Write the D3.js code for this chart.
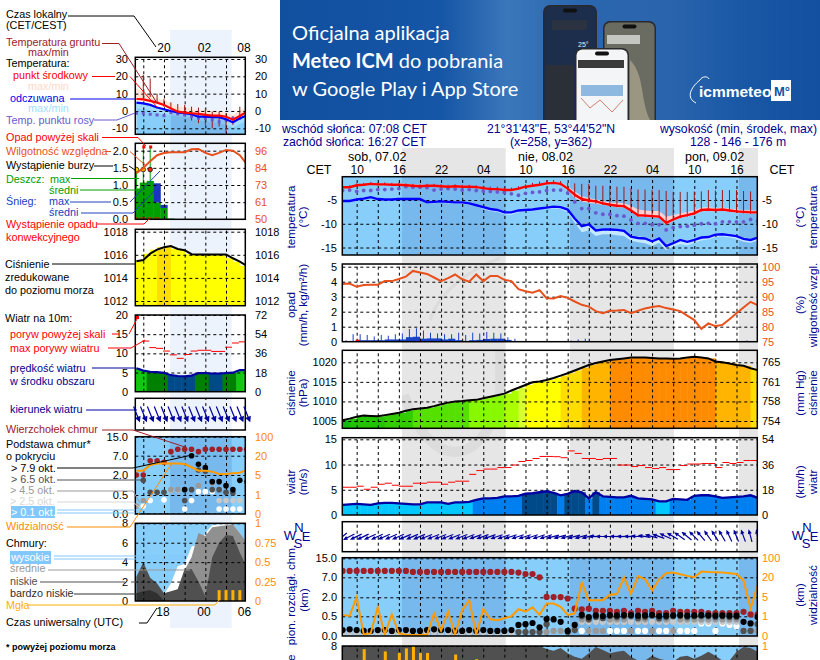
<!DOCTYPE html>
<html>
<head>
<meta charset="utf-8">
<script src="https://cdn.jsdelivr.net/npm/d3@7"></script>
<style>
  html, body { margin: 0; padding: 0; background: #fff; overflow: hidden; }
  svg { display: block; font-family: "Liberation Sans", Arial, sans-serif; }
  .domain { display: none; }
</style>
</head>
<body>
<div id="drawing_region"></div>
<script>
const _ = null;

// main meteogram, one value per hour from sob 08:00
const dayLabels = ['sob, 07.02', 'nie, 08.02', 'pon, 09.02'];
const hourLabels = ['10', '16', '22', '04', '10', '16', '22', '04', '10', '16'];
const temp = [-2.3,-2.3,-1.9,-1.8,-1.6,-1.7,-1.7,-1.8,-1.8,-1.9,-2.0,-2.1,-2.0,-2.0,-2.1,-2.2,-2.1,-2.2,-2.2,-2.3,-2.5,-2.7,-2.7,-2.9,-2.9,-2.6,-2.2,-2.0,-1.8,-1.5,-1.4,-1.6,-2.6,-3.9,-4.8,-5.1,-5.3,-5.7,-6.0,-6.2,-6.3,-7.2,-8.2,-8.3,-8.4,-8.5,-9.8,-9.1,-8.5,-8.2,-7.8,-7.1,-7.0,-7.1,-7.0,-7.2,-7.4,-7.5,-7.6,-7.6];
const tempHigh = [-2.1,-2.1,-1.7,-1.6,-1.4,-1.5,-1.5,-1.5,-1.5,-1.6,-1.7,-1.8,-1.8,-1.8,-1.9,-2.0,-1.9,-2.0,-2.0,-2.1,-2.3,-2.5,-2.5,-2.7,-2.7,-2.4,-2.0,-1.8,-1.6,-1.2,-1.1,-1.4,-2.1,-3.2,-4.2,-4.6,-4.9,-5.2,-5.5,-5.6,-5.7,-6.2,-7.0,-7.2,-7.3,-7.3,-8.5,-8.2,-7.8,-7.5,-7.2,-6.6,-6.5,-6.7,-6.6,-6.8,-7.0,-7.1,-7.2,-7.2];
const tempLow = [-2.5,-2.5,-2.1,-2.0,-1.8,-1.9,-1.9,-2.0,-2.0,-2.1,-2.2,-2.3,-2.2,-2.2,-2.3,-2.4,-2.3,-2.4,-2.4,-2.5,-2.7,-2.9,-2.9,-3.1,-3.1,-2.8,-2.4,-2.2,-2.0,-1.7,-1.6,-1.9,-3.0,-4.5,-5.3,-5.6,-5.8,-6.0,-6.3,-6.5,-6.6,-7.5,-8.5,-8.6,-8.7,-8.8,-10.3,-9.4,-8.8,-8.5,-8.1,-7.4,-7.3,-7.4,-7.3,-7.5,-7.7,-7.8,-7.9,-7.9];
const feel = [-5.2,-5.2,-4.9,-4.7,-4.4,-4.8,-4.9,-4.9,-4.8,-4.8,-4.8,-4.8,-5.5,-5.4,-5.3,-5.4,-5.5,-5.5,-5.7,-6.1,-6.5,-6.9,-7.1,-7.6,-7.6,-7.2,-7.1,-7.0,-6.8,-6.6,-6.4,-6.5,-7.0,-8.9,-10.5,-10.1,-11.4,-11.2,-11.2,-11.3,-11.5,-12.7,-13.0,-13.1,-13.7,-13.1,-14.7,-14.1,-13.4,-13.8,-13.4,-12.9,-12.8,-12.3,-12.2,-12.4,-12.6,-13.2,-13.4,-12.9];
const feelHigh = [-5.0,-5.0,-4.7,-4.5,-4.2,-4.6,-4.7,-4.7,-4.6,-4.6,-4.6,-4.6,-5.2,-5.2,-5.1,-5.2,-5.3,-5.3,-5.5,-5.9,-6.3,-6.7,-6.9,-7.4,-7.4,-7.0,-6.9,-6.8,-6.6,-6.4,-6.2,-6.3,-6.8,-8.5,-10.1,-9.8,-11.1,-11.0,-11.0,-11.1,-11.3,-12.4,-12.7,-12.8,-13.3,-12.8,-14.3,-13.8,-13.1,-13.5,-13.1,-12.6,-12.5,-12.0,-11.9,-12.1,-12.3,-12.9,-13.1,-12.7];
const feelLow = [-5.4,-5.4,-5.1,-4.9,-4.6,-5.0,-5.1,-5.1,-5.0,-5.0,-5.0,-5.0,-5.8,-5.7,-5.6,-5.7,-5.8,-5.8,-6.0,-6.4,-6.9,-7.3,-7.5,-8.0,-8.1,-7.6,-7.4,-7.3,-7.1,-6.9,-6.8,-6.9,-7.6,-9.8,-11.8,-11.4,-12.6,-12.2,-12.2,-12.4,-12.6,-13.6,-13.9,-14.1,-14.7,-14.0,-15.6,-14.8,-14.3,-14.5,-14.0,-13.5,-13.3,-12.8,-12.7,-12.9,-13.2,-13.8,-14.0,-13.5];
const dew = [-3.0,-2.9,-3.2,-3.0,-3.0,-2.8,-2.8,-2.7,-2.6,-2.2,-2.3,-2.3,-2.4,-2.9,-2.7,-2.6,-2.7,-2.9,-2.8,-3.0,-3.1,-3.2,-3.3,-3.4,-3.7,-4.0,-3.6,-3.4,-3.3,-3.0,-2.9,-2.9,-3.5,-5.4,-6.8,-6.8,-7.7,-8.0,-8.0,-8.3,-8.4,-9.2,-9.9,-9.9,-10.2,-10.2,-11.3,-10.8,-10.6,-10.5,-10.3,-10.0,-9.9,-10.0,-9.6,-9.6,-9.6,-9.6,-9.1,-9.4];
const groundMax = [-1.9,-1.9,-1.5,-1.4,-1.2,-1.3,-1.3,-1.4,-1.4,-1.5,-1.6,-1.7,-1.6,-1.6,-1.7,-1.8,-1.7,-1.8,-1.8,-1.9,-2.0,-2.2,-2.2,-2.4,-2.4,-2.1,-1.7,-1.4,-1.1,-0.9,-0.8,-1.0,-1.4,-1.5,-1.6,-1.6,-2.0,-2.0,-2.0,-2.2,-2.2,-2.5,-2.8,-2.8,-2.9,-2.9,-3.1,-3.3,-3.3,-3.3,-3.2,-3.2,-2.9,-3.0,-2.9,-2.9,-2.9,-3.1,-3.2,-3.2];
const humidity = [94.2,94.4,93.3,93.9,94.0,94.0,95.2,95.2,95.9,96.7,98.6,98.1,97.6,96.4,95.2,96.2,97.4,95.8,95.0,97.4,95.2,96.9,96.9,95.6,95.2,92.5,91.8,91.3,92.2,89.5,89.4,90.2,89.6,88.4,87.3,86.7,85.2,84.5,85.3,85.4,85.6,84.5,85.3,86.1,86.6,86.9,86.2,85.7,85.2,83.7,82.2,79.3,81.1,80.2,80.6,82.5,84.5,86.4,88.3,87.2];
const snowMean = [0,.05,.1,.1,.1,.1,.15,.15,.15,.3,.33,.2,.22,.22,.15,.2,.1,.05,.1,.12,.18,.2,.2,.12,.05,0,0,0,0,0,0,0,0,0,0,0,0,0,0,0,0,0,0,0,0,0,0,0,0,0,0,0,0,0,0,0,0,0,0,0];
const snowMax = [.1,.5,.5,.45,.35,.45,.4,.5,.55,.85,.9,.75,.6,.55,.5,.5,.6,.45,.6,.55,.65,.6,.55,.3,.2,.05,0,0,0,0,0,0,.08,.15,.2,0,0,0,0,0,0,0,0,0,0,0,0,0,0,0,0,0,0,0,0,0,0,.08,0,0];
const rainMean = [0,0,0,0,0,0,0,0,0,0,0,0,0,0,0,0,0,0,0,0,0,0,0,0,0,0,.03,.03,.03,.03,.03,.03,.03,.03,.03,.03,.03,.03,.03,.03,.03,.03,.03,.03,.03,.03,.03,.03,.03,.03,.03,.03,.03,.03,.03,.03,.03,.03,.03,.03];
const convective = [2];
const pressure = [1005.2,1005.6,1006.1,1006.4,1006.3,1006.2,1006.5,1006.8,1007.1,1007.6,1008,1008.2,1008.4,1008.8,1009.3,1009.7,1010,1010.1,1010.3,1010.4,1010.8,1011.2,1011.6,1012,1012.8,1013.5,1014.2,1014.9,1015.1,1015.5,1016,1016.6,1017.2,1017.9,1018.6,1019.3,1019.8,1020.2,1020.6,1020.8,1021,1021.2,1021.2,1021.2,1021.1,1021.0,1021.0,1020.9,1021.0,1021.2,1021.4,1021.2,1021,1020.2,1020,1019.7,1019.3,1019.1,1018.5,1018];
const wind = [2,2.1,2.2,2.1,2,2.3,2.4,2.4,2.3,2.2,2.1,2.1,2.5,2.5,2.5,2.2,2.5,2.5,2.6,3.0,3.3,3.3,3.4,3.7,3.7,3.8,4.2,4.3,4.5,4.7,4.4,3.9,4.2,4.75,4.5,3.3,4.5,3.7,3.6,3.5,3.5,3.8,3.3,3.2,3.1,2.7,2.7,3.2,3.1,3,3.8,3.9,3.9,3.7,3.4,3.5,3.6,3.7,3.9,3.4];
const gust = [5.5,5.5,5.7,5.1,5.5,6.1,6.3,5.9,5.7,5.7,6.3,6.3,6.5,6.5,6.1,6.5,6.7,6.7,8.05,8.8,9.1,9.1,9.4,9.4,9.9,10.6,10.8,11.2,11.6,11.6,11.55,11.35,12.7,12.2,11.2,11.2,11,11.2,11.2,9.9,9.9,9.6,9.8,9.4,9.2,9.4,9,9,9.8,10.1,10.1,10.2,10.2,9.4,10.4,10.2,10.4,10.8,10.8,10.8];
const windDir = [50,62,64,64,65,65,66,66,66,67,67,67,68,68,68,68,69,69,69,70,70,70,71,71,71,72,72,72,72,72,75,75,75,75,75,75,88,90,90,92,92,92,95,100,105,110,115,120,125,130,135,140,145,148,150,155,158,160,165,170];
const cloudTop = [9.7,9.7,9.7,9.7,9.7,9.7,9.7,9.7,9.7,9.7,9.25,9.25,9.25,9.25,9.25,9.25,9.25,9.25,9.25,9.25,9.25,9.25,9.25,9.25,9.25,9,8.4,8.4,7,2.1,2.05,2.05,1.9,1.1,1.05,1.1,.93,.93,.93,.85,.93,.75,.93,.85,.93,.75,.75,.93,.85,.85,.85,.85,.75,.75,.75,.75,.75,.85,.65,.65];
const base79 = [.15,.17,.15,.13,.13,.15,.15,.13,.15,.15,.13,.13,.15,.17,.15,.15,.13,.13,.15,.13,.15,.13,.13,.13,.15,.28,.3,.33,.22,.43,.42,.36,.13,.28,.62,.48,.57,.52,.6,.57,.6,.6,.55,.57,.62,.52,.55,.57,.6,.55,.57,.6,.58,.55,.57,.55,.55,.36,.32,.48];
const base65 = [_,_,_,_,_,_,_,_,_,_,_,_,_,_,_,_,_,_,_,_,_,_,_,_,_,.1,.1,.1,.1,.3,_,_,.1,.15,.5,.42,.48,.45,.52,.48,.5,.5,.46,.48,.55,.45,.48,.5,.52,.48,.5,.52,.5,.48,.5,.48,.48,.13,.13,.3];
const base45 = [_,_,_,_,_,_,_,_,_,_,_,_,_,_,_,_,_,_,_,_,_,_,_,_,_,.1,.1,.1,.1,.1,.13,.13,_,_,.42,.13,.13,.13,.42,.42,.42,.13,.42,.42,.13,.42,.42,.13,.42,.42,.42,.42,.42,.42,.42,.42,.42,_,.13,.13];
const base25 = [.08,.08,.08,.08,.08,.08,.08,.08,.08,.08,.08,.08,.08,.08,.08,.08,.08,.08,.08,.08,.08,.08,.08,.08,.08,_,_,_,_,_,_,_,_,_,.36,.36,.36,.36,.36,.36,.36,.36,.36,.36,.36,.36,.36,.36,.36,.36,.36,.36,.36,.36,.36,.36,.36,_,_,_];
const base01 = [_,_,_,_,_,_,_,_,_,_,_,_,_,_,_,_,_,_,_,_,_,_,_,_,_,_,_,_,_,_,_,_,_,_,.13,.13,_,_,.13,.13,.13,_,.13,.13,_,.13,.13,.13,.13,.13,.13,.32,.32,.13,.32,.28,.25,_,_,_];
const visibility = [1.3,1.07,5,.08,.14,2.9,.08,1.4,.14,.05,.05,.05,.05,1.6,.27,2,.08,2.3,4.4,.08,2.5,.85,.8,.9,1,2.5,2,2.9,1.3,3.7,3.7,3,1.3,1.6,16,4.4,4.4,4.4,7,7.5,20,7.5,25,18.5,10,18.5,37,40,33,26,20,44,42,41,40,37,34,17.5,2.7,14];
const cloudLow = [8,8,8,8,8,8,8,8,8,8,8,8,8,8,8,8,8,8,8,8,8,8,8,8,8,8,8,8,8,7.7,7.5,7.8,7.25,6.9,6.7,7.25,7.9,7.6,7.25,7.4,7.5,6.9,6.5,6.5,7,6.7,6.5,6.4,6.9,7,6.7,7,7.4,7,6.5,6.5,7.4,7.9,7.8,7.4];
const fogHours = [3, 6, 8, 9, 10, 11, 12, 16, 19];
const fogValues = [.96, .93, .91, .97, 1, .91, .91, .89, .83];

// legend meteogram on the left, one value per hour from 16:00
const legendTemp = [6.9,6.7,5.8,4.8,3.5,1.5,-0.4,-1,-1.3,-1.7,-2.3,-2.7,-2.7,-3.3,-5,-2.9,-0.5];
const legendTempHigh = [13,11,9.3,7.3,6.3,4.5,2.5,2.1,1.5,.6,.6,.2,-.4,-1,-2.3,.6,1.5];
const legendFeel = [4.8,4.4,3.5,2,1,0,-.8,-1.3,-1.9,-3.3,-3.3,-3.6,-3.6,-4.8,-6.5,-4.2,-2.7];
const legendFeelLow = [1.5,1,.5,-1,-2,-2.5,-3,-3.5,-4.5,-5.5,-6,-6.5,-7,-8,-9.5,-7.5,-6];
const legendDew = [-1.3,-1.3,-1.9,-2.3,-2.7,-1,-1.7,-2.3,-3.3,-4.2,-4.2,-5.2,-6.2,-5.2,-4.2,-4.2,_];
const legendGroundMax = [_,20.8,18.8,10,7,5,4,3.5,2.5,2,1.5,-.4,-.4,-1.3,-3,2.5,_];
const legendGroundMin = [_,7,8,5,2.5,1,-1,-2,-5.5,-7,-8,-10,-9,-12.8,-8,-5,_];
const legendHumidity = [81,84.4,89,93,94.5,95,95,95,97,97.2,94.5,93,94.5,96.5,96,93,87];
const legendRain = [.9,1.07,1.12,.49,.33,.02];
const legendSnow = [0,0,0,.56,.09,0];
const legendRainMax = [1.5,2.1,2.1];
const legendStorm = ['#ffe000', '#ffa500', '#ff2000'];
const legendPressure = [1015.45,1015.55,1016.1,1016.45,1016.65,1016.75,1016.5,1016.4,1016.05,1016.03,1016.03,1016.03,1016.03,1016.03,1015.7,1015.4,1015.05];
const legendWind = [6.1,5.5,5.2,5.1,4.9,4.3,4.1,4,4.2,4.85,4.85,4.75,4.75,4.85,4.95,5.65,5.65];
const legendGust = [_,13.2,11.5,11.3,10.6,9.6,8.7,9.7,10.6,10.8,10.8,10.5,10.5,11.6,12.7,13,13];
const legendDir = [338,338,338,338,338,338,338,338,338,338,338,338,338,338,338,338,338];
const legendCloudTop = [2,2,5.7,5.7,5.3,8.7,9.7,9.7,9.7,8.7,9.7,9.7,9.7,9.7,9.7,9.7,9.7];
const legendBase79 = [_,_,_,_,_,_,_,.9,7,4.8,3.9,1.5,1.5,1.2,.9,1.6,_];
const legendBase65 = [_,1.6,.7,.7,.7,_,_,.35,.9,3.3,3,.9,.9,.7,.65,_,1.5];
const legendBase45 = [.2,.35,_,_,_,.9,.9,_,_,1.2,_,1.4,_,_,_,_,_];
const legendBase25 = [.2,_,_,_,_,.85,.85,_,_,_,_,_,.35,.35,.35,.35,_];
const legendBase01 = [_,.2,.35,_,.37,_,_,.12,.35,.75,.75,.75,.12,.12,.12,.12,_];
const legendVisibility = [8.4,8.4,12.8,14,14,14,14,13.5,11,8.4,8.4,7.6,5.8,5.8,6.3,6.8,8.9];
const legendHigh = [0,0,0,0,.7,1.8,3.6,3.8,5.6,5.8,7,7.8,7.9,7.9,7.9,7,5.8];
const legendMid = [0,0,0,0,.8,.9,1.2,3.2,4.5,7,6.7,7.6,7.7,7.8,7.9,7,6];
const legendLow = [2.5,4,2.4,1.8,.8,1,1.2,3.3,3.3,2,.5,4.5,6,6.8,6.7,5,3.5];
const legendVeryLow = [.8,1,1.1,.8,0,0,0,0,0,0,0,0,0,0,0,0,0];
const legendFog = [_,_,_,_,_,_,_,_,_,_,_,_,.14,.14,.14,.14,_];

var SKY = '#87cefa', NAVY = '#000090';
var NIGHT = 'rgba(40,80,170,.17)';

var svg = d3.select('#drawing_region').append('svg').attr('width', 820).attr('height', 660);
var defs = svg.append('defs');

function label(parent, str, x, y, color, opts) {
    opts = opts || {};
    var t = parent.append('text').attr('x', x).attr('y', y).attr('fill', color || '#000')
        .attr('font-size', opts.size || 10.8).text(str);
    if (opts.anchor) t.attr('text-anchor', opts.anchor);
    if (opts.weight) t.attr('font-weight', opts.weight);
    if (opts.family) t.attr('font-family', opts.family);
    return t;
}

function rotated(str, x, y, color, size) {
    return svg.append('text').attr('transform', 'translate(' + x + ',' + y + ') rotate(-90)')
        .attr('text-anchor', 'middle').attr('fill', color || NAVY).attr('font-size', size || 11.7).text(str);
}

// ---------- panels ----------
var clipCount = 0;
function makePanel(cfg) {
    var id = 'clip' + (clipCount++);
    defs.append('clipPath').attr('id', id).append('rect')
        .attr('x', cfg.left).attr('y', cfg.top)
        .attr('width', cfg.right - cfg.left).attr('height', cfg.bottom - cfg.top);
    return {
        cfg: cfg,
        y: d3.scaleLinear().domain(cfg.domain).range(cfg.range),
        back: svg.append('g').attr('clip-path', 'url(#' + id + ')'),
        grid: svg.append('g').attr('clip-path', 'url(#' + id + ')'),
        front: svg.append('g').attr('clip-path', 'url(#' + id + ')')
    };
}

function finishPanel(p, x, gridTicks) {
    var c = p.cfg;
    // dashed grid through the axes
    p.grid.append('g').attr('transform', 'translate(0,' + c.bottom + ')')
        .call(d3.axisBottom(x).tickValues(gridTicks).tickSize(-(c.bottom - c.top)).tickFormat(''));
    p.grid.append('g').attr('transform', 'translate(' + c.left + ',0)')
        .call(d3.axisLeft(p.y).tickValues(c.ticks).tickSize(-(c.right - c.left)).tickFormat(''));
    p.grid.selectAll('.tick line').attr('stroke', '#000').attr('stroke-dasharray', '3,3');

    var font = c.fontSize || 11;
    if (c.leftLabels) {
        var la = svg.append('g').attr('transform', 'translate(' + c.leftX + ',0)')
            .call(d3.axisLeft(p.y).tickValues(c.ticks).tickSize(0).tickPadding(0)
                .tickFormat((d, i) => c.leftLabels[i]));
        la.selectAll('text').attr('font-size', font).attr('font-family', null).attr('fill', '#000');
    }
    if (c.rightLabels) {
        var ra = svg.append('g').attr('transform', 'translate(' + c.rightX + ',0)')
            .call(d3.axisRight(p.y).tickValues(c.ticks).tickSize(0).tickPadding(0)
                .tickFormat((d, i) => c.rightLabels[i]));
        ra.selectAll('text').attr('font-size', font).attr('font-family', null)
            .attr('fill', c.rightColor || '#000');
    }
    svg.append('rect').attr('x', c.left).attr('y', c.top)
        .attr('width', c.right - c.left).attr('height', c.bottom - c.top)
        .attr('fill', 'none').attr('stroke', '#000').attr('stroke-width', 1.5);
}

function drawLine(g, x, y, values, color, width) {
    var line = d3.line().defined(d => d != null).x((d, i) => x(i)).y(d => y(d));
    g.append('path').attr('d', line(values)).attr('fill', 'none')
        .attr('stroke', color).attr('stroke-width', width);
}

function drawBand(g, x, y, hi, lo, color) {
    var area = d3.area().x((d, i) => x(i)).y0((d, i) => y(lo[i])).y1(d => y(d));
    g.append('path').attr('d', area(hi)).attr('fill', color);
}

// colored columns under pressure and wind curves
function drawColumns(g, x, y, values, colorScale, offset, step) {
    g.selectAll(null).data(values).join('rect')
        .attr('x', (d, i) => x(i) + offset)
        .attr('y', d => y(d))
        .attr('width', step + .5)
        .attr('height', d => y.range()[0] - y(d) + 40)
        .attr('fill', d => colorScale(d));
}

function drawDots(g, x, y, values, color, r) {
    g.selectAll(null).data(values.map((d, i) => [i, d]).filter(d => d[1] != null)).join('circle')
        .attr('cx', d => x(d[0])).attr('cy', d => y(d[1])).attr('r', r).attr('fill', color);
}

function drawArrows(g, x, cy, dirs, len, color, head) {
    dirs.forEach((deg, i) => {
        var a = deg * Math.PI / 180, dx = -Math.sin(a), dy = Math.cos(a);
        var hx = x(i) + dx * len / 2, hy = cy + dy * len / 2;
        var tx = x(i) - dx * len / 2, ty = cy - dy * len / 2;
        g.append('line').attr('x1', tx).attr('y1', ty).attr('x2', hx).attr('y2', hy)
            .attr('stroke', color).attr('stroke-width', 1.2);
        var px = -dy * head, py = dx * head;
        g.append('path').attr('fill', color)
            .attr('d', 'M' + (hx + dx * 2) + ',' + (hy + dy * 2) + 'L' + (hx - dx * head * 1.3 + px) + ',' + (hy - dy * head * 1.3 + py) + 'L' + (hx - dx * head * 1.3 - px) + ',' + (hy - dy * head * 1.3 - py) + 'Z');
    });
}

// ---------- shared scales ----------
var pressureColor = d3.scaleThreshold()
    .domain([1005.6, 1006.5, 1008, 1010.2, 1012, 1013.2, 1014.1, 1016.6, 1018.6, 1020.5])
    .range(['#10b810', '#22c400', '#33cc00', '#55e000', '#88f800', '#aaff00', '#d8ff30', '#ffff00', '#ffdd00', '#ffb400', '#ff8c00']);
var windColor = d3.scaleThreshold()
    .domain([2.8, 4, 4.8, 5.3])
    .range(['#00c8ff', '#0080f0', '#004a8a', '#008000', '#10c810']);
var cloudBaseDomain = [0, .5, 2, 7, 15];

// ---------- background ----------
var xMain = d3.scaleLinear().domain([0, 59]).range([342.6, 757.6]);
var xLeft = d3.scaleLinear().domain([0, 16]).range([136.4, 246.7]);
var mainStep = 7.03, leftStep = 6.89;
var nightBands = [[402, 505.7], [570, 674], [739, 758]];

svg.append('rect').attr('x', 170).attr('y', 30).attr('width', 61.7).attr('height', 598).attr('fill', '#edf3fd');
nightBands.forEach(b => {
    svg.append('rect').attr('x', b[0]).attr('y', 148).attr('width', b[1] - b[0]).attr('height', 512).attr('fill', '#e6e6e6');
});
// faint watermark in the night bands
defs.append('clipPath').attr('id', 'wm').append('rect').attr('x', 402).attr('y', 148).attr('width', 103.7).attr('height', 512);
svg.append('path').attr('clip-path', 'url(#wm)').attr('fill', 'none').attr('stroke', '#dcdcdc').attr('stroke-width', 10)
    .attr('d', 'M404,395 C430,470 480,470 500,400 L500,350');
svg.append('path').attr('clip-path', 'url(#wm)').attr('fill', 'none').attr('stroke', '#dcdcdc').attr('stroke-width', 3)
    .attr('d', 'M430,320 C440,290 470,270 500,258');

// ---------- banner ----------
var grad = defs.append('linearGradient').attr('id', 'bannerGrad');
[[0, '#114f9f'], [.3, '#1656a6'], [.42, '#3a76ba'], [.56, '#2a66ae'], [.72, '#2a64ac'], [.85, '#1a58a6'], [1, '#1350a0']]
    .forEach(s => grad.append('stop').attr('offset', s[0]).attr('stop-color', s[1]));
defs.append('clipPath').attr('id', 'bannerClip').append('rect').attr('x', 280).attr('y', 0).attr('width', 540).attr('height', 120);
var banner = svg.append('g').attr('clip-path', 'url(#bannerClip)');
banner.append('rect').attr('x', 280).attr('y', 0).attr('width', 540).attr('height', 120).attr('fill', 'url(#bannerGrad)');

function phone(x, y, w, screen) {
    banner.append('rect').attr('x', x).attr('y', y).attr('width', w).attr('height', 125).attr('rx', 7).attr('fill', '#2a2a2c');
    banner.append('rect').attr('x', x + 1.5).attr('y', y + 1.5).attr('width', w - 3).attr('height', 122).attr('rx', 6).attr('fill', screen);
    banner.append('rect').attr('x', x + w / 2 - 7).attr('y', y + 3.5).attr('width', 14).attr('height', 4).attr('rx', 2).attr('fill', '#111');
}
phone(543, 5, 54, '#1d2e4c');
banner.append('rect').attr('x', 552).attr('y', 20).attr('width', 35).attr('height', 10).attr('rx', 2).attr('fill', '#2c3340');
banner.append('rect').attr('x', 546).attr('y', 65).attr('width', 28).attr('height', 55).attr('fill', '#2a2f38');
label(banner, '25°', 578, 47, '#e8eef6', { size: 7 });
phone(603, 21, 53, '#6a6c62');
banner.append('rect').attr('x', 607).attr('y', 35).attr('width', 33).attr('height', 9).attr('fill', '#c4c6c2');
banner.append('path').attr('d', 'M630,60 C645,75 640,100 650,120 L630,120 Z').attr('fill', '#9a9682');
phone(575, 48, 54, '#f4f5f6');
banner.append('rect').attr('x', 578).attr('y', 60).attr('width', 46).attr('height', 8).attr('fill', '#3a3a3a');
banner.append('rect').attr('x', 581).attr('y', 85).attr('width', 42).attr('height', 11).attr('fill', '#8fb8e0');
banner.append('path').attr('d', 'M581,98 L590,108 L600,100 L612,112 L623,100').attr('fill', 'none').attr('stroke', '#d08070').attr('stroke-width', 1);

label(banner, 'Oficjalna aplikacja', 292, 40, '#fff', { size: 20, family: 'Lato' });
var t2 = label(banner, 'Meteo ICM', 292, 68, '#fff', { size: 20, family: 'Lato', weight: 700 });
t2.append('tspan').attr('font-weight', 400).text(' do pobrania');
label(banner, 'w Google Play i App Store', 292, 96, '#fff', { size: 20, family: 'Lato' });
label(banner, 'icmmeteo', 699, 97, '#fff', { size: 15.5, weight: 700 });
banner.append('path').attr('d', 'M700,80 C690,88 686,98 696,103 M700,80 C702,76 708,76 709,79').attr('fill', 'none').attr('stroke', '#fff');
banner.append('rect').attr('x', 771).attr('y', 80).attr('width', 20).attr('height', 21).attr('fill', '#fff');
label(banner, 'M°', 774, 96, '#1350a0', { size: 13, weight: 700 });

// ---------- header of main chart ----------
label(svg, 'wschód słońca: 07:08 CET', 282, 133, NAVY, { size: 12.2 });
label(svg, 'zachód słońca: 16:27 CET', 283, 146, NAVY, { size: 12.2 });
label(svg, '21°31\'43"E, 53°44\'52"N', 551, 133, NAVY, { size: 12.2, anchor: 'middle' });
label(svg, '(x=258, y=362)', 551, 146, NAVY, { size: 12.2, anchor: 'middle' });
label(svg, 'wysokość (min, środek, max)', 817, 133, NAVY, { size: 12.2, anchor: 'end' });
label(svg, '128 - 146 - 176 m', 738, 146, NAVY, { size: 12.2, anchor: 'middle' });

label(svg, dayLabels[0], 348, 161, '#000', { size: 12.5 });
label(svg, dayLabels[1], 518, 161, '#000', { size: 12.5 });
label(svg, dayLabels[2], 685, 161, '#000', { size: 12.5 });
label(svg, 'CET', 319, 174, '#000', { size: 12.5, anchor: 'middle' });
label(svg, 'CET', 782, 174, '#000', { size: 12.5, anchor: 'middle' });
svg.append('g').attr('transform', 'translate(0,174)')
    .call(d3.axisTop(xMain).tickValues(d3.range(2, 60, 6)).tickSize(0).tickPadding(-3).tickFormat((d, i) => hourLabels[i]))
    .selectAll('text').attr('font-size', 12).attr('font-family', null).attr('fill', '#000').attr('y', 0);

var gridMain = d3.range(2, 60, 3);
var gridLeft = [1, 4, 7, 10, 13];
var mainEdges = { left: 342.3, right: 757.3, leftX: 337, rightX: 762 };
var legendEdges = { left: 135.3, right: 245.3, leftX: 128, rightX: 255 };

// ---------- main: temperature ----------
var pT = makePanel(Object.assign({ top: 176.7, bottom: 255, domain: [-5, -15], range: [200, 247.5], ticks: [-5, -10, -15],
    leftLabels: ['-5', '-10', '-15'], rightLabels: ['-5', '-10', '-15'] }, mainEdges));
pT.back.append('rect').attr('x', 342).attr('y', 176).attr('width', 416).attr('height', 80).attr('fill', SKY);
nightBands.forEach(b => pT.back.append('rect').attr('x', b[0]).attr('y', 176).attr('width', b[1] - b[0]).attr('height', 80).attr('fill', NIGHT));
drawBand(pT.back, xMain, pT.y, feelHigh, feelLow, '#c4e8ff');
drawBand(pT.back, xMain, pT.y, tempHigh, tempLow, '#ffd0d0');
groundMax.forEach((d, i) => {
    pT.front.append('line').attr('x1', xMain(i)).attr('x2', xMain(i)).attr('y1', pT.y(d)).attr('y2', pT.y(tempLow[i]))
        .attr('stroke', '#a01818').attr('stroke-width', 1);
});
drawDots(pT.front, xMain, pT.y, dew, '#6a5acd', 1.9);
drawLine(pT.front, xMain, pT.y, feel, '#0000ff', 2.4);
drawLine(pT.front, xMain, pT.y, temp, '#ff0000', 2.4);
finishPanel(pT, xMain, gridMain);
rotated('temperatura', 295, 217); rotated('(°C)', 307, 217);
rotated('temperatura', 817, 217); rotated('(°C)', 804, 217);

// ---------- main: precipitation and humidity ----------
var pR = makePanel(Object.assign({ top: 264, bottom: 341.7, domain: [0, 5], range: [341.7, 266.7], ticks: [0, 1, 2, 3, 4, 5],
    leftLabels: ['0', '1', '2', '3', '4', '5'], rightLabels: ['75', '80', '85', '90', '95', '100'], rightColor: '#e8501c' }, mainEdges));
var yHum = d3.scaleLinear().domain([75, 100]).range([341.7, 266.7]);
pR.back.selectAll(null).data(snowMean).join('rect')
    .attr('x', (d, i) => xMain(i)).attr('y', d => pR.y(d)).attr('width', 7.2).attr('height', d => pR.y(0) - pR.y(d)).attr('fill', '#1a44c8');
pR.back.selectAll(null).data(rainMean).join('rect')
    .attr('x', (d, i) => xMain(i)).attr('y', d => pR.y(d)).attr('width', 7.2).attr('height', d => pR.y(0) - pR.y(d)).attr('fill', '#008000');
snowMax.forEach((d, i) => {
    if (d > 0) pR.back.append('line').attr('x1', xMain(i) + 3.5).attr('x2', xMain(i) + 3.5).attr('y1', pR.y(0)).attr('y2', pR.y(d)).attr('stroke', '#1a44c8');
});
convective.forEach(h => pR.front.append('rect').attr('x', xMain(h) - 1).attr('y', pR.y(0) - 2).attr('width', 4).attr('height', 2).attr('fill', '#f00'));
drawLine(pR.front, xMain, yHum, humidity, '#e8501c', 2);
finishPanel(pR, xMain, gridMain);
rotated('opad', 295, 305); rotated('(mm/h, kg/m²/h)', 307, 305);
rotated('wilgotność wzgl.', 817, 305); rotated('(%)', 804, 305);

// ---------- main: pressure ----------
var pP = makePanel(Object.assign({ top: 350.3, bottom: 428.3, domain: [1005, 1020], range: [421, 362.3], ticks: [1005, 1010, 1015, 1020],
    leftLabels: ['1005', '1010', '1015', '1020'], rightLabels: ['754', '758', '761', '765'] }, mainEdges));
drawColumns(pP.back, xMain, pP.y, pressure, pressureColor, 0, mainStep);
drawLine(pP.front, xMain, pP.y, pressure, '#000', 2);
finishPanel(pP, xMain, gridMain);
rotated('ciśnienie', 295, 393); rotated('(hPa)', 307, 393);
rotated('ciśnienie', 817, 393); rotated('(mm Hg)', 804, 393);

// ---------- main: wind ----------
var pW = makePanel(Object.assign({ top: 437.7, bottom: 515, domain: [0, 15], range: [515, 439.3], ticks: [0, 5, 10, 15],
    leftLabels: ['0', '5', '10', '15'], rightLabels: ['0', '18', '36', '54'] }, mainEdges));
drawColumns(pW.back, xMain, pW.y, wind, windColor, -3.5, mainStep);
drawLine(pW.front, xMain, pW.y, wind, '#0000a0', 2.4);
gust.forEach((d, i) => pW.front.append('line').attr('x1', xMain(i)).attr('x2', xMain(i) + mainStep).attr('y1', pW.y(d)).attr('y2', pW.y(d)).attr('stroke', '#f00'));
finishPanel(pW, xMain, gridMain);
rotated('wiatr', 295, 482); rotated('(m/s)', 307, 482);
rotated('wiatr', 817, 482); rotated('(km/h)', 804, 482);

// ---------- main: wind direction ----------
var pD = makePanel(Object.assign({ top: 521.7, bottom: 551.7, domain: [0, 1], range: [551.7, 521.7], ticks: [] }, mainEdges));
drawArrows(pD.front, xMain, 536.5, windDir, 11, '#0000a0', 2);
finishPanel(pD, xMain, gridMain);
[[290, 540, 'W'], [299, 532, 'N'], [306, 541, 'E'], [298, 548, 'S'], [798, 540, 'W'], [807, 532, 'N'], [814, 541, 'E'], [806, 548, 'S']]
    .forEach(r => label(svg, r[2], r[0], r[1], NAVY, { size: 13, anchor: 'middle' }));

// ---------- main: cloud base and visibility ----------
var pC = makePanel(Object.assign({ top: 557.7, bottom: 636, domain: cloudBaseDomain, range: [636, 616.3, 597.3, 577.3, 558.3],
    ticks: cloudBaseDomain, leftLabels: ['0.0', '0.5', '2.0', '7.0', '15.0'], rightLabels: ['0', '1', '5', '20', '100'], rightColor: '#ff8c00' }, mainEdges));
var yVis = d3.scaleLinear().domain([0, 1, 5, 20, 100]).range([636, 616.3, 597.3, 577.3, 558.3]);
pC.back.append('rect').attr('x', 342).attr('y', 557).attr('width', 416).attr('height', 80).attr('fill', SKY);
nightBands.forEach(b => pC.back.append('rect').attr('x', b[0]).attr('y', 557).attr('width', b[1] - b[0]).attr('height', 80).attr('fill', NIGHT));
drawDots(pC.front, xMain, pC.y, cloudTop, '#a02028', 3.1);
drawDots(pC.front, xMain, pC.y, base01, '#fff', 3.1);
drawDots(pC.front, xMain, pC.y, base25, '#c8c8c8', 3.1);
drawDots(pC.front, xMain, pC.y, base45, '#999', 3.1);
drawDots(pC.front, xMain, pC.y, base65, '#505050', 3.1);
drawDots(pC.front, xMain, pC.y, base79, '#000', 3.1);
drawLine(pC.front, xMain, yVis, visibility, '#ff9a00', 2);
finishPanel(pC, xMain, gridMain);
rotated('pion. rozciągł. chm.', 295, 595); rotated('(km)', 308, 600);
rotated('widzialność', 817, 595); rotated('(km)', 804, 595);

// ---------- main: clouds, cut by the window ----------
var pK = makePanel(Object.assign({ top: 646, bottom: 723.7, domain: [0, 8], range: [723.7, 646], ticks: [8],
    leftLabels: ['8'], rightLabels: ['1'], rightColor: '#ff8c00' }, mainEdges));
pK.back.append('rect').attr('x', 342).attr('y', 646).attr('width', 416).attr('height', 80).attr('fill', SKY);
nightBands.forEach(b => pK.back.append('rect').attr('x', b[0]).attr('y', 646).attr('width', b[1] - b[0]).attr('height', 80).attr('fill', NIGHT));
drawBand(pK.back, xMain, pK.y, cloudLow, cloudLow.map(() => 0), '#505050');
fogHours.forEach((h, i) => pK.front.append('rect').attr('x', xMain(h) - 1).attr('y', pK.y(fogValues[i] * 8)).attr('width', 3).attr('height', 80).attr('fill', '#ffb000'));
finishPanel(pK, xMain, gridMain);
svg.append('text').attr('transform', 'translate(295,661) rotate(-90)').attr('fill', NAVY).attr('font-size', 11.7).text('e');

// ---------- legend: temperature ----------
var lT = makePanel(Object.assign({ top: 57.3, bottom: 134.3, domain: [-10, 30], range: [128.3, 59], ticks: [-10, 0, 10, 20, 30],
    leftLabels: ['-10', '0', '10', '20', '30'], rightLabels: ['-10', '0', '10', '20', '30'] }, legendEdges));
var legendBottom = legendTemp.map(() => -20);
drawBand(lT.back, xLeft, lT.y, legendTempHigh, legendTemp, '#ffe4d8');
drawBand(lT.back, xLeft, lT.y, legendFeel, legendBottom, SKY);
drawBand(lT.back, xLeft, lT.y, legendFeel, legendFeelLow, '#a4dcff');
var nightIdx = legendTemp.map((d, i) => i).filter(i => xLeft(i) >= 170 && xLeft(i) <= 232);
var nightArea = d3.area().x(i => xLeft(i)).y0(lT.y(-20)).y1(i => lT.y(legendFeel[i]));
lT.back.append('path').attr('d', nightArea(nightIdx)).attr('fill', NIGHT);
legendGroundMax.forEach((d, i) => {
    if (d != null) lT.front.append('line').attr('x1', xLeft(i)).attr('x2', xLeft(i)).attr('y1', lT.y(d)).attr('y2', lT.y(legendGroundMin[i])).attr('stroke', '#a01818');
});
legendDew.forEach((d, i) => {
    if (d != null) lT.front.append('rect').attr('x', xLeft(i) - 1.5).attr('y', lT.y(d) - 1.5).attr('width', 3).attr('height', 3).attr('fill', '#6a5acd');
});
drawLine(lT.front, xLeft, lT.y, legendFeel, '#0000ff', 2.2);
drawLine(lT.front, xLeft, lT.y, legendTemp, '#ff0000', 2.2);
finishPanel(lT, xLeft, gridLeft);

// ---------- legend: precipitation and humidity ----------
var lR = makePanel(Object.assign({ top: 143.3, bottom: 219.3, domain: [0, 2], range: [219.3, 150.7], ticks: [0, .5, 1, 1.5, 2],
    leftLabels: ['0.0', '0.5', '1.0', '1.5', '2.0'], rightLabels: ['50', '61', '73', '84', '96'], rightColor: '#e8501c' }, legendEdges));
var yHumL = d3.scaleLinear().domain([50, 96]).range([219.3, 150.7]);
legendRain.forEach((d, i) => {
    var bx = xLeft(i) - 3.5;
    lR.back.append('rect').attr('x', bx).attr('y', lR.y(d)).attr('width', leftStep + .3).attr('height', lR.y(0) - lR.y(d)).attr('fill', '#00a000');
    lR.back.append('rect').attr('x', bx).attr('y', lR.y(d + legendSnow[i])).attr('width', leftStep + .3).attr('height', lR.y(d) - lR.y(d + legendSnow[i])).attr('fill', '#1a34c0');
});
legendRainMax.forEach((d, i) => {
    lR.back.append('line').attr('x1', xLeft(i)).attr('x2', xLeft(i)).attr('y1', lR.y(d)).attr('y2', lR.y(legendRain[i])).attr('stroke', '#00a000');
    if (d > 2) lR.front.append('rect').attr('x', xLeft(i) - 1).attr('y', 145.5).attr('width', 3).attr('height', 3).attr('fill', '#f00');
});
legendStorm.forEach((c, i) => {
    lR.front.append('circle').attr('cx', xLeft(i)).attr('cy', lR.y(1.45)).attr('r', 2.3).attr('fill', c).attr('stroke', '#000').attr('stroke-width', .7);
});
[0, 1, 2, 3].forEach(i => lR.front.append('line').attr('x1', xLeft(i) - 3).attr('x2', xLeft(i) + 2).attr('y1', 218).attr('y2', 218).attr('stroke', '#f00'));
drawLine(lR.front, xLeft, yHumL, legendHumidity, '#e8501c', 2);
finishPanel(lR, xLeft, gridLeft);

// ---------- legend: pressure ----------
var lP = makePanel(Object.assign({ top: 229.3, bottom: 305.7, domain: [1012, 1018], range: [301, 231.7], ticks: [1012, 1014, 1016, 1018],
    leftLabels: ['1012', '1014', '1016', '1018'], rightLabels: ['1012', '1014', '1016', '1018'] }, legendEdges));
drawColumns(lP.back, xLeft, lP.y, legendPressure, pressureColor, -6.89, leftStep);
drawLine(lP.front, xLeft, lP.y, legendPressure, '#000', 2);
finishPanel(lP, xLeft, gridLeft);

// ---------- legend: wind ----------
var lW = makePanel(Object.assign({ top: 315, bottom: 391.7, domain: [0, 20], range: [391.7, 315], ticks: [0, 5, 10, 15, 20],
    leftLabels: ['0', '5', '10', '15', '20'], rightLabels: ['0', '18', '36', '54', '72'] }, legendEdges));
drawColumns(lW.back, xLeft, lW.y, legendWind, windColor, -3.5, leftStep);
drawLine(lW.front, xLeft, lW.y, legendWind, '#0000a0', 2.2);
legendGust.forEach((d, i) => {
    if (d != null) lW.front.append('line').attr('x1', xLeft(i) - 1).attr('x2', xLeft(i) + 6).attr('y1', lW.y(d)).attr('y2', lW.y(d)).attr('stroke', '#f00');
});
lW.front.append('rect').attr('x', 136).attr('y', 316).attr('width', 3).attr('height', 3).attr('fill', '#f00');
finishPanel(lW, xLeft, gridLeft);

// ---------- legend: wind direction ----------
var lD = makePanel(Object.assign({ top: 398.3, bottom: 430, domain: [0, 1], range: [430, 398.3], ticks: [] }, legendEdges));
finishPanel(lD, xLeft, gridLeft);
drawArrows(svg.append('g'), xLeft, 413.5, legendDir, 15, '#0000a0', 3);

// ---------- legend: cloud base and visibility ----------
var lC = makePanel(Object.assign({ top: 436.7, bottom: 514, domain: cloudBaseDomain, range: [513.5, 495, 475, 455.7, 436.7], ticks: cloudBaseDomain,
    leftLabels: ['0.0', '0.5', '2.0', '7.0', '15.0'], rightLabels: ['0', '1', '5', '20', '100'], rightColor: '#ff8c00' }, legendEdges));
var yVisL = d3.scaleLinear().domain([0, 1, 5, 20, 100]).range([513.5, 495, 475, 455.7, 436.7]);
lC.back.append('rect').attr('x', 135).attr('y', 436).attr('width', 111).attr('height', 79).attr('fill', SKY);
lC.back.append('rect').attr('x', 170).attr('y', 436).attr('width', 61.7).attr('height', 79).attr('fill', NIGHT);
drawDots(lC.front, xLeft, lC.y, legendCloudTop, '#a02028', 2.8);
drawDots(lC.front, xLeft, lC.y, legendBase01, '#fff', 2.8);
drawDots(lC.front, xLeft, lC.y, legendBase25, '#c8c8c8', 2.8);
drawDots(lC.front, xLeft, lC.y, legendBase45, '#999', 2.8);
drawDots(lC.front, xLeft, lC.y, legendBase65, '#505050', 2.8);
drawDots(lC.front, xLeft, lC.y, legendBase79, '#000', 2.8);
drawLine(lC.front, xLeft, yVisL, legendVisibility, '#ff9a00', 2);
finishPanel(lC, xLeft, gridLeft);

// ---------- legend: clouds ----------
var lK = makePanel(Object.assign({ top: 523.3, bottom: 601, domain: [0, 8], range: [601, 523.3], ticks: [0, 2, 4, 6, 8],
    leftLabels: ['0', '2', '4', '6', '8'], rightLabels: ['0', '0.25', '0.5', '0.75', '1'], rightColor: '#ff8c00' }, legendEdges));
var zeros = legendHigh.map(() => 0);
lK.back.append('rect').attr('x', 135).attr('y', 523).attr('width', 111).attr('height', 79).attr('fill', SKY);
drawBand(lK.back, xLeft, lK.y, legendHigh, zeros, '#fff');
drawBand(lK.back, xLeft, lK.y, legendMid, zeros, '#909090');
drawBand(lK.back, xLeft, lK.y, legendLow, zeros, '#505050');
drawBand(lK.back, xLeft, lK.y, legendVeryLow, zeros, '#303030');
legendFog.forEach((d, i) => {
    if (d != null) lK.front.append('rect').attr('x', xLeft(i) - 1.5).attr('y', lK.y(d * 8)).attr('width', 3).attr('height', lK.y(0) - lK.y(d * 8)).attr('fill', '#ffb000');
});
finishPanel(lK, xLeft, gridLeft);

// ---------- legend: texts ----------
var legendTexts = [
    ['Czas lokalny', 6, 18, '#000'], ['(CET/CEST)', 6, 29, '#000'],
    ['Temperatura gruntu', 6, 46, '#a02028'], ['max/min', 28, 56, '#a02028'],
    ['Temperatura:', 6, 67, '#000'], ['punkt środkowy', 13, 79, '#f00'], ['max/min', 28, 90, '#ffd8c8'],
    ['odczuwana', 10, 102, '#0000f0'], ['max/min', 28, 112, '#a4dcff'], ['Temp. punktu rosy', 6, 124, '#6a5acd'],
    ['Opad powyżej skali', 6, 141, '#f00'], ['Wilgotność względna', 6, 155, '#e8501c'], ['Wystąpienie burzy', 6, 169, '#000'],
    ['Deszcz:', 6, 183, '#00a000'], ['max', 50, 183, '#00a000'], ['średni', 49, 194, '#00a000'],
    ['Śnieg:', 6, 205, '#2040c0'], ['max', 49, 205, '#2040c0'], ['średni', 49, 216, '#2040c0'],
    ['Wystąpienie opadu', 6, 228, '#f00'], ['konwekcyjnego', 6, 241, '#f00'],
    ['Ciśnienie', 5, 268, '#000'], ['zredukowane', 5, 281, '#000'], ['do poziomu morza', 5, 294, '#000'],
    ['Wiatr na 10m:', 5, 322, '#000'], ['poryw powyżej skali', 10, 338, '#f00'], ['max porywy wiatru', 10, 352, '#f00'],
    ['prędkość wiatru', 10, 372, NAVY], ['w środku obszaru', 10, 385, NAVY], ['kierunek wiatru', 10, 413, NAVY],
    ['Wierzchołek chmur', 6, 433, '#a02028'], ['Podstawa chmur*', 6, 448, '#000'], ['o pokryciu', 6, 460, '#000'],
    ['> 7.9 okt.', 11, 472, '#000'], ['> 6.5 okt.', 11, 483, '#505050'], ['> 4.5 okt.', 10, 494, '#999'], ['> 2.5 okt.', 10, 505, '#d8d8d8'],
    ['Widzialność', 6, 530, '#ff8c00'], ['Chmury:', 6, 547, '#000'],
    ['średnie', 10, 572, '#999'], ['niskie', 10, 585, '#505050'], ['bardzo niskie', 10, 597, '#303030'], ['Mgła', 6, 609, '#ffb000'],
    ['Czas uniwersalny (UTC)', 6, 626, '#000']
];
svg.append('rect').attr('x', 11).attr('y', 506).attr('width', 44).attr('height', 12).attr('fill', '#80c8ff');
svg.append('rect').attr('x', 10).attr('y', 551).attr('width', 41).attr('height', 13).attr('fill', '#80c8ff');
legendTexts.forEach(d => label(svg, d[0], d[1], d[2], d[3]));
label(svg, '> 0.1 okt.', 11, 516, '#fff');
label(svg, 'wysokie', 11, 561, '#fff');
label(svg, '* powyżej poziomu morza', 6, 650, '#000', { size: 9, weight: 700 });

[['20', 164], ['02', 204.5], ['08', 244]].forEach(d => label(svg, d[0], d[1], 52, '#000', { size: 12, anchor: 'middle' }));
[['18', 163], ['00', 204], ['06', 244.5]].forEach(d => label(svg, d[0], d[1], 616, '#000', { size: 12, anchor: 'middle' }));

// leader lines from legend texts to the marks
var leaders = [
    ['#000', [[68, 16], [134, 16], [156, 47]]],
    ['#a02028', [[102, 43.5], [119, 43.5], [157, 103]]],
    ['#f00', [[92, 76.5], [115, 76.5]]], ['#f00', [[130, 76.5], [157, 107]]],
    ['#0000f0', [[70, 99], [135, 99]]],
    ['#6a5acd', [[94, 120], [117, 120], [135, 113]]],
    ['#f00', [[102, 137.5], [138, 137.5], [146, 146]]],
    ['#e8501c', [[105, 151.5], [111, 151.5]]], ['#e8501c', [[130, 151.5], [145, 165]]],
    ['#000', [[94, 166], [113, 166]]], ['#000', [[129, 166], [135, 170]]],
    ['#00a000', [[71, 178.5], [139, 178.5]]], ['#00a000', [[80, 190], [139, 190]]],
    ['#2040c0', [[70, 202], [111, 202]]], ['#2040c0', [[130, 202], [160, 171]]],
    ['#2040c0', [[81, 213], [133, 213], [160, 185]]],
    ['#f00', [[97, 224], [144, 224], [149, 219]]],
    ['#000', [[52, 264], [135, 264]]],
    ['#f00', [[112, 334], [119, 334]]], ['#f00', [[129, 334], [138, 317]]],
    ['#f00', [[108, 348], [131, 348], [145, 340]]],
    ['#0000a0', [[92, 368], [135, 368]]], ['#0000a0', [[86, 410], [137, 410]]],
    ['#a02028', [[102, 430], [133, 430], [185, 447]]],
    ['#000', [[57, 468], [133, 468], [192, 455]]],
    ['#505050', [[57, 480], [143, 480]]],
    ['#999', [[57, 491], [133, 491], [140, 503]]],
    ['#d8d8d8', [[57, 502], [133, 502], [140, 508]]],
    ['#80c8ff', [[57, 510], [135, 510]]], ['#80c8ff', [[57, 513], [135, 513]]],
    ['#ff8c00', [[67, 527], [130, 527], [172, 463]]],
    ['#80c8ff', [[54, 556], [185, 556]]], ['#80c8ff', [[54, 559], [185, 559]]],
    ['#999', [[48, 570], [190, 570]]],
    ['#505050', [[40, 582], [125, 582]]], ['#505050', [[131, 582], [136, 582]]],
    ['#303030', [[74, 594], [148, 594]]],
    ['#ffb000', [[27, 605], [215, 605], [219, 600]]],
    ['#000', [[139, 623], [147, 623], [157, 608]]]
];
var leaderLine = d3.line();
leaders.forEach(d => {
    svg.append('path').attr('d', leaderLine(d[1])).attr('fill', 'none').attr('stroke', d[0]).attr('stroke-width', 1);
});
</script>
</body>
</html>
